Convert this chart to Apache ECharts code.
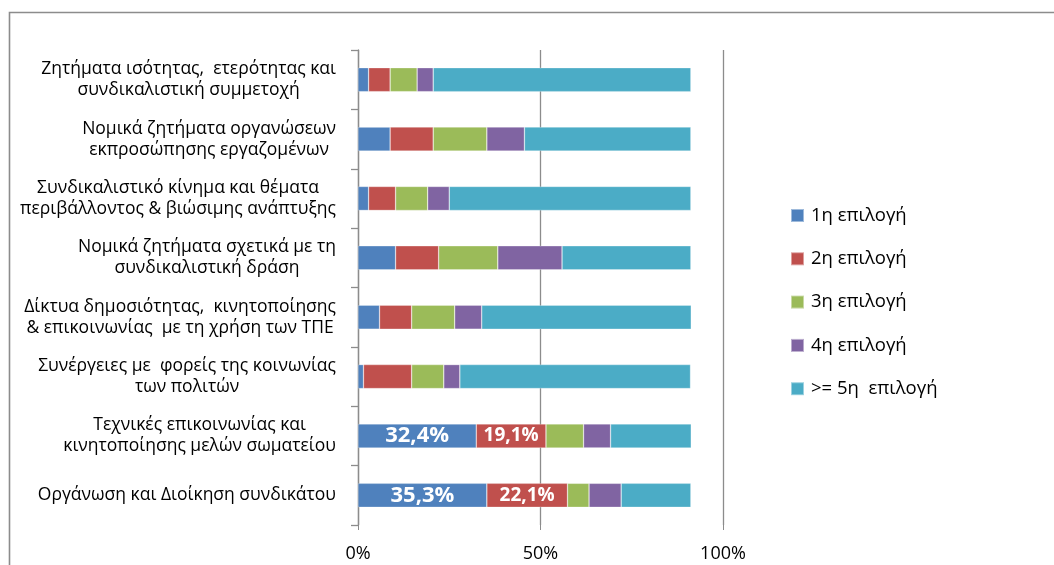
<!DOCTYPE html>
<html>
<head>
<meta charset="utf-8">
<script src="https://cdn.jsdelivr.net/npm/echarts@6/dist/echarts.min.js"></script>
<style>
  html, body { margin: 0; padding: 0; background: #fff; }
  #chart { width: 1054px; height: 565px; }
</style>
</head>
<body>
<div id="chart"></div>
<script>
// Topics, listed top to bottom
var categories = [
  'Ζητήματα ισότητας,  ετερότητας και\nσυνδικαλιστική συμμετοχή',
  'Νομικά ζητήματα οργανώσεων\nεκπροσώπησης εργαζομένων',
  'Συνδικαλιστικό κίνημα και θέματα\nπεριβάλλοντος & βιώσιμης ανάπτυξης',
  'Νομικά ζητήματα σχετικά με τη\nσυνδικαλιστική δράση',
  'Δίκτυα δημοσιότητας,  κινητοποίησης\n& επικοινωνίας  με τη χρήση των ΤΠΕ',
  'Συνέργειες με  φορείς της κοινωνίας\nτων πολιτών',
  'Τεχνικές επικοινωνίας και\nκινητοποίησης μελών σωματείου',
  'Οργάνωση και Διοίκηση συνδικάτου'
];

var seriesNames = ['1η επιλογή', '2η επιλογή', '3η επιλογή', '4η επιλογή', '>= 5η  επιλογή'];

// Share of answers (%) per choice rank, one value per topic
var choice1 = [2.9, 8.8, 2.9, 10.3, 5.9, 1.5, 32.4, 35.3];
var choice2 = [5.9, 11.8, 7.4, 11.8, 8.8, 13.2, 19.1, 22.1];
var choice3 = [7.4, 14.7, 8.8, 16.2, 11.8, 8.8, 10.3, 5.9];
var choice4 = [4.4, 10.3, 5.9, 17.6, 7.4, 4.4, 7.4, 8.8];
var choice5 = [70.6, 45.6, 66.2, 35.3, 57.4, 63.2, 22.1, 19.1];

// Topics whose first two segments carry a value label
var labelledTopics = [6, 7];

var xTicks = { min: 0, max: 100, interval: 50 };

var colors = ['#4F81BD', '#C0504D', '#9BBB59', '#8064A2', '#4BACC6'];
var labelSizes = [22, 19];

function buildSeries(values, idx) {
  return {
    name: seriesNames[idx],
    type: 'bar',
    stack: 'total',
    barWidth: 24,
    itemStyle: { color: colors[idx], borderColor: 'rgba(255,255,255,0.45)', borderWidth: 0.6 },
    emphasis: { disabled: true },
    data: values.map(function (v, i) {
      var d = { value: v };
      if (idx < 2 && labelledTopics.indexOf(i) >= 0) {
        d.label = {
          show: true,
          position: 'inside',
          color: '#fff',
          fontWeight: 'bold',
          fontSize: labelSizes[idx],
          fontFamily: 'Open Sans',
          formatter: function (p) { return p.value.toFixed(1).replace('.', ',') + '%'; }
        };
      }
      return d;
    })
  };
}

var chart = echarts.init(document.getElementById('chart'), null, { renderer: 'canvas' });

chart.setOption({
  animation: false,
  backgroundColor: '#fff',
  textStyle: { fontFamily: 'Open Sans' },
  graphic: [{
    type: 'rect',
    shape: { x: 9.5, y: 12.5, width: 1200, height: 700 },
    style: { fill: 'none', stroke: '#8c8c8c', lineWidth: 1.6 },
    silent: true,
    z: -1
  }],
  grid: { left: 358, right: 331, top: 50, bottom: 40, containLabel: false },
  legend: {
    orient: 'vertical',
    left: 790,
    top: 206,
    padding: 0,
    itemWidth: 13,
    itemHeight: 13,
    itemGap: 24.3,
    icon: 'rect',
    data: seriesNames,
    textStyle: { fontSize: 18.5, color: '#000', fontFamily: 'Open Sans', padding: [0, 0, 0, 2] }
  },
  xAxis: {
    type: 'value',
    min: xTicks.min,
    max: xTicks.max,
    interval: xTicks.interval,
    axisLine: { show: false },
    axisTick: { show: true, length: 5, lineStyle: { color: '#8c8c8c' } },
    splitLine: { show: true, lineStyle: { color: '#8c8c8c', width: 1.3 } },
    axisLabel: {
      formatter: '{value}%',
      fontSize: 18,
      color: '#000',
      margin: 20,
      fontFamily: 'Open Sans'
    }
  },
  yAxis: {
    type: 'category',
    inverse: true,
    data: categories,
    axisLine: { show: true, lineStyle: { color: '#8c8c8c', width: 1.3 } },
    axisTick: { show: true, length: 7, lineStyle: { color: '#8c8c8c', width: 1.3 } },
    axisLabel: {
      margin: 22,
      color: '#000',
      formatter: function (v) {
        return v.split('\n').map(function (s) { return '{c|' + s + '}'; }).join('\n');
      },
      rich: {
        c: { fontSize: 17.5, lineHeight: 21, align: 'center', color: '#000', fontFamily: 'Open Sans' }
      }
    }
  },
  series: [
    buildSeries(choice1, 0),
    buildSeries(choice2, 1),
    buildSeries(choice3, 2),
    buildSeries(choice4, 3),
    buildSeries(choice5, 4)
  ]
});
</script>
</body>
</html>
